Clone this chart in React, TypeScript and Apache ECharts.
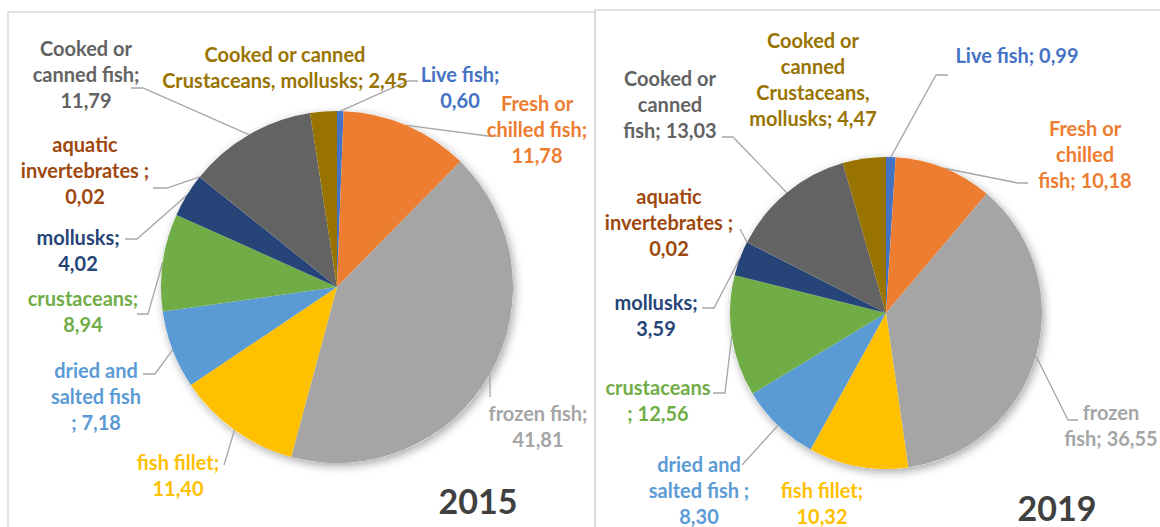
import React, { useEffect, useRef } from "react";
import * as echarts from "echarts";

// ---------- DATA ----------
const categories = [
  "Live fish",
  "Fresh or chilled fish",
  "frozen fish",
  "fish fillet",
  "dried and salted fish",
  "crustaceans",
  "mollusks",
  "aquatic invertebrates",
  "Cooked or canned fish",
  "Cooked or canned Crustaceans, mollusks",
];
const years = ["2015", "2019"];
const values2015 = [0.6, 11.78, 41.81, 11.4, 7.18, 8.94, 4.02, 0.02, 11.79, 2.45];
const values2019 = [0.99, 10.18, 36.55, 10.32, 8.3, 12.56, 3.59, 0.02, 13.03, 4.47];
// label wrapping templates ({v} = value)
const labels2015 = [
  "Live fish;\n{v}",
  "Fresh or\nchilled fish;\n{v}",
  "frozen fish;\n{v}",
  "fish fillet;\n{v}",
  "dried and\nsalted fish\n; {v}",
  "crustaceans;\n{v}",
  "mollusks;\n{v}",
  "aquatic\ninvertebrates ;\n{v}",
  "Cooked or\ncanned fish;\n{v}",
  "Cooked or canned\nCrustaceans, mollusks; {v}",
];
const labels2019 = [
  "Live fish; {v}",
  "Fresh or\nchilled\nfish; {v}",
  "frozen\nfish; {v}",
  "fish fillet;\n{v}",
  "dried and\nsalted fish ;\n{v}",
  "crustaceans\n; {v}",
  "mollusks;\n{v}",
  "aquatic\ninvertebrates ;\n{v}",
  "Cooked or\ncanned\nfish; {v}",
  "Cooked or\ncanned\nCrustaceans,\nmollusks; {v}",
];

// ---------- STYLE / LAYOUT ----------
const colors = [
  "#4472C4",
  "#ED7D31",
  "#A5A5A5",
  "#FFC000",
  "#5B9BD5",
  "#70AD47",
  "#264478",
  "#9E480E",
  "#636363",
  "#997300",
];
const FONT = "Lato, Carlito, Calibri, 'Noto Sans', sans-serif";
const pieGeom = [
  { center: [337, 287], radius: 176 },
  { center: [886, 313], radius: 156 },
];
const labelPos = [
  [[460, 87], [537, 129], [538, 426], [178, 475], [96, 396], [83, 311], [78, 250], [85, 170], [86, 74], [285, 67]],
  [[1017, 55], [1085, 154], [1111, 425], [822, 503], [699, 490], [658, 400], [656, 315], [669, 222], [670, 104], [813, 79]],
];
const leaderPts: (number[][] | null)[][] = [
  [
    [[408, 81], [418, 81]],
    [[488, 136], [497, 136]],
    [[490, 390], [490, 397]],
    [[224, 465], [224, 465]],
    [[155, 374], [143, 374]],
    [[148, 314], [137, 314]],
    [[137, 239], [125, 239]],
    [[167, 188], [153, 188]],
    [[143, 88], [131, 88]],
    null,
  ],
  [
    [[936, 75], [948, 75]],
    [[1018, 183], [1028, 183]],
    [[1068, 420], [1078, 420]],
    null,
    [[742, 465], [742, 465]],
    [[725, 393], [713, 393]],
    [[714, 308], [702, 308]],
    [[740, 229], [740, 229]],
    [[733, 137], [722, 137]],
    null,
  ],
];
const titlePos = [
  [478, 500],
  [1057, 507],
];

const fmt = (v: number) => v.toFixed(2).replace(".", ",");

export default function App() {
  const ref = useRef<HTMLDivElement>(null);
  useEffect(() => {
    document.body.style.margin = "0";
    if (!ref.current) return;
    const chart = echarts.init(ref.current, null, { renderer: "svg" });
    const allValues = [values2015, values2019];
    const allLabels = [labels2015, labels2019];

    const shadowSeries = pieGeom.map((g) => ({
      type: "pie",
      z: 1,
      silent: true,
      center: g.center,
      radius: g.radius,
      label: { show: false },
      labelLine: { show: false },
      itemStyle: {
        color: "#ffffff",
        shadowBlur: 10,
        shadowColor: "rgba(0,0,0,0.35)",
        shadowOffsetX: 2,
        shadowOffsetY: 3,
      },
      data: [{ value: 1, name: "" }],
    }));

    const mainSeries = pieGeom.map((g, s) => ({
      type: "pie",
      z: 2,
      name: years[s],
      center: g.center,
      radius: g.radius,
      startAngle: 90,
      clockwise: true,
      avoidLabelOverlap: false,
      itemStyle: { borderWidth: 0 },
      label: {
        show: true,
        position: "outside",
        fontFamily: FONT,
        fontWeight: "bold",
        fontSize: 20,
        lineHeight: 26,
        align: "center",
        formatter: (p: any) => allLabels[s][p.dataIndex].replace("{v}", fmt(p.value)),
      },
      labelLine: {
        show: true,
        length: 10,
        length2: 10,
        lineStyle: { color: "#A6A6A6", width: 1.3 },
      },
      labelLayout: (p: any) => {
        const i = p.dataIndex;
        const pos = labelPos[s][i];
        const lp = leaderPts[s][i];
        const out: any = {
          x: pos[0],
          y: pos[1],
          align: "center",
          verticalAlign: "middle",
          hideOverlap: false,
        };
        if (lp && p.labelLinePoints && p.labelLinePoints[0]) {
          out.labelLinePoints = [p.labelLinePoints[0], lp[0], lp[1]];
        }
        return out;
      },
      data: categories.map((name, i) => ({
        name,
        value: allValues[s][i],
        itemStyle: { color: colors[i] },
        label: { color: colors[i] },
        labelLine: { show: leaderPts[s][i] !== null },
      })),
    }));

    chart.setOption({
      animation: false,
      backgroundColor: "#ffffff",
      tooltip: { show: false },
      graphic: [
        {
          type: "rect",
          z: 0,
          shape: { x: 8, y: 12, width: 587, height: 540 },
          style: { fill: "none", stroke: "#D9D9D9", lineWidth: 1.5 },
        },
        {
          type: "rect",
          z: 0,
          shape: { x: 595, y: 10, width: 580, height: 540 },
          style: { fill: "none", stroke: "#D9D9D9", lineWidth: 1.5 },
        },
        ...years.map((y, k) => ({
          type: "text",
          z: 10,
          x: titlePos[k][0],
          y: titlePos[k][1],
          style: {
            text: y,
            fill: "#404040",
            font: `bold 34px ${FONT}`,
            textAlign: "center",
            textVerticalAlign: "middle",
          },
        })),
      ],
      series: [...shadowSeries, ...mainSeries],
    });
    return () => chart.dispose();
  }, []);

  return (
    <div
      ref={ref}
      style={{ width: 1160, height: 527, background: "#fff", margin: 0 }}
    />
  );
}
